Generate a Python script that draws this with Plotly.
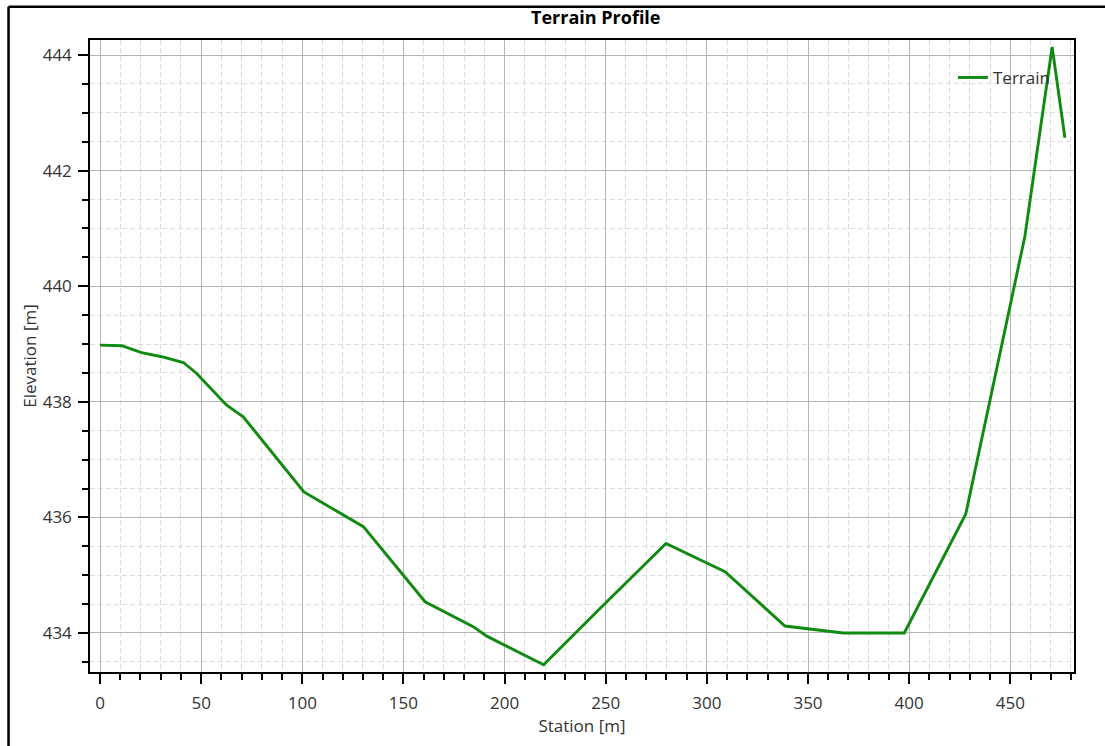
import plotly.graph_objects as go

# Terrain profile: station along the section [m] and ground elevation [m]
station = [0, 10.7, 20.6, 30.5, 41.2, 47.8, 62.6, 70.8, 100.8, 130.2, 160.7,
           184.5, 191.0, 219.3, 248.8, 279.8, 309.0, 338.6, 367.4, 397.6,
           428.0, 457.2, 470.7, 477.0]
elevation = [438.98, 438.97, 438.85, 438.78, 438.68, 438.49, 437.94, 437.74,
             436.44, 435.84, 434.54, 434.11, 433.95, 433.45, 434.48, 435.55,
             435.06, 434.12, 434.00, 434.00, 436.06, 440.86, 444.14, 442.57]

x_ticks = [0, 50, 100, 150, 200, 250, 300, 350, 400, 450]
y_ticks = [434, 436, 438, 440, 442, 444]

FONT = "Open Sans, Noto Sans, sans-serif"
TXT = "#333333"
FS = 17

fig = go.Figure()
fig.add_trace(go.Scatter(
    x=station, y=elevation, mode="lines", name="Terrain",
    line=dict(color="#108a10", width=2.9),
))

axis_common = dict(
    showline=True, linecolor="black", linewidth=1.5, mirror=True,
    ticks="outside", ticklen=10, tickwidth=1.5, tickcolor="black",
    showgrid=True, gridcolor="#b4b4b4", gridwidth=1,
    zeroline=False,
    tickfont=dict(family=FONT, size=FS, color=TXT),
)

minor_common = dict(ticks="outside", ticklen=6, tickwidth=1.5,
                    tickcolor="black", showgrid=True, gridcolor="#dcdcdc",
                    griddash="5px,3px", gridwidth=1)

fig.update_xaxes(
    range=[-4.95, 481.5], tickvals=x_ticks,
    minor=dict(dtick=10, **minor_common),
    ticklabelstandoff=5,
    title=dict(text="Station [m]", font=dict(family=FONT, size=FS, color=TXT),
               standoff=5),
    **axis_common,
)
fig.update_yaxes(
    range=[433.325, 444.26], tickvals=y_ticks,
    minor=dict(dtick=0.5, **minor_common),
    ticklabelstandoff=3,
    title=dict(text="Elevation [m]", font=dict(family=FONT, size=FS, color=TXT),
               standoff=2),
    **axis_common,
)

fig.update_layout(
    width=1105, height=746,
    margin=dict(l=90, r=31, t=40, b=74),
    paper_bgcolor="white", plot_bgcolor="white",
    showlegend=True,
    legend=dict(x=0.877, y=0.94, xanchor="left", yanchor="middle",
                bgcolor="rgba(0,0,0,0)",
                font=dict(family=FONT, size=FS, color=TXT)),
    annotations=[dict(
        text="<b>Terrain Profile</b>", xref="paper", yref="paper",
        x=0.514, y=1.0, yanchor="bottom", xanchor="center", yshift=9,
        showarrow=False, font=dict(family=FONT, size=18, color="black"),
    )],
    shapes=[
        # outer frame around the chart panel
        dict(type="line", xref="paper", yref="paper", x0=-0.0828, x1=1.1,
             y0=1.0525, y1=1.0525, line=dict(color="black", width=2.5)),
        dict(type="line", xref="paper", yref="paper", x0=-0.0828, x1=-0.0828,
             y0=1.0525, y1=-0.2, line=dict(color="black", width=2.5)),
    ],
)

fig.write_html("out.html")
